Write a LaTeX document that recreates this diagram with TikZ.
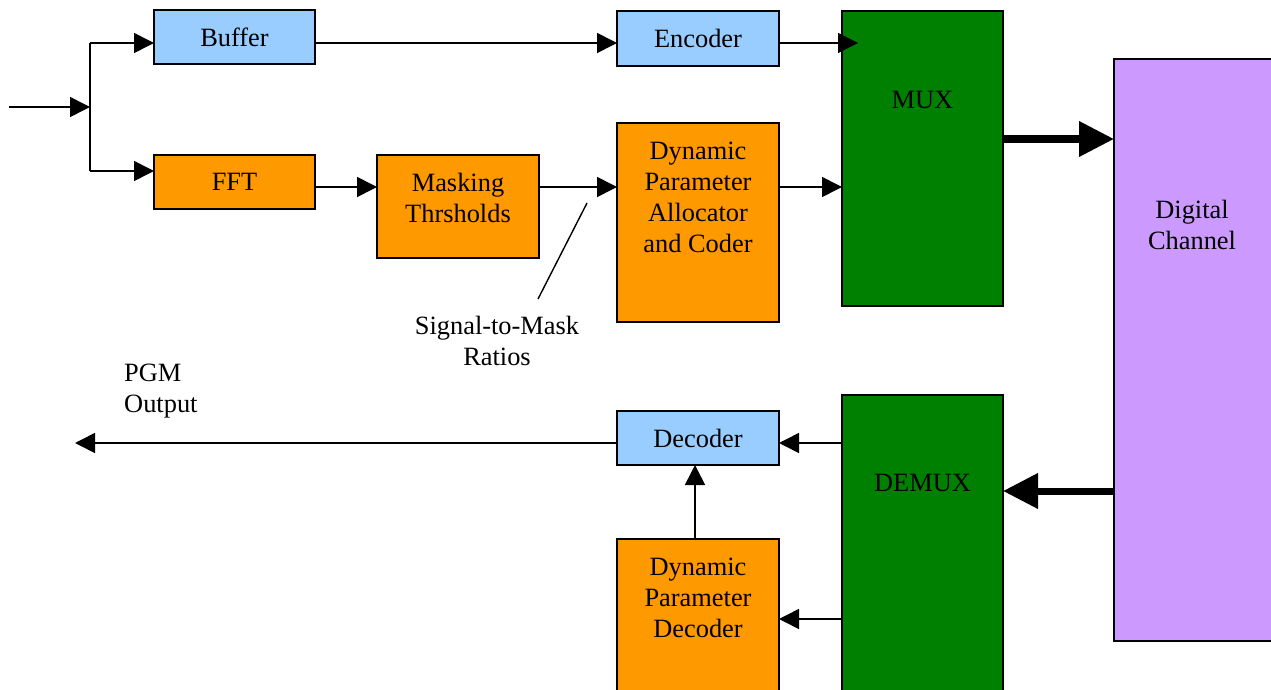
\documentclass[tikz,border=0pt]{standalone}
\usepackage{fontspec}
\setmainfont{Liberation Serif}
\usetikzlibrary{arrows.meta}
\definecolor{lightblue}{HTML}{99CCFF}
\definecolor{orangebox}{HTML}{FF9900}
\definecolor{muxgreen}{HTML}{008000}
\definecolor{channel}{HTML}{CC99FF}
\begin{document}
\begin{tikzpicture}[x=1pt,y=-1pt,
  box/.style={draw=black, line width=1.6pt, inner sep=0pt, outer sep=0pt, anchor=north west},
  txt/.style={font=\fontsize{26.4}{31}\selectfont, align=center, inner sep=0pt},
  wire/.style={line width=1.6pt},
  link/.style={line width=1.6pt, -{Triangle[length=20pt,width=20pt]}},
  bus/.style={line width=7pt, -{Triangle[length=35pt,width=34pt]}}]
\useasboundingbox (0,0) rectangle (1271,690);

% blocks
\node[box, fill=lightblue, minimum width=161pt, minimum height=54pt] (buffer) at (154,10) {};
\node[box, fill=orangebox, minimum width=161pt, minimum height=54pt] (fft) at (154,155) {};
\node[box, fill=orangebox, minimum width=162pt, minimum height=103pt] (mask) at (377,155) {};
\node[box, fill=lightblue, minimum width=162pt, minimum height=55pt] (encoder) at (617,11) {};
\node[box, fill=orangebox, minimum width=162pt, minimum height=199pt] (dpac) at (617,123) {};
\node[box, fill=muxgreen, minimum width=161pt, minimum height=295pt] (mux) at (842,11) {};
\node[box, fill=channel, minimum width=160pt, minimum height=582pt] (dc) at (1114,59) {};
\node[box, fill=muxgreen, minimum width=161pt, minimum height=296pt] (demux) at (842,395) {};
\node[box, fill=lightblue, minimum width=162pt, minimum height=54pt] (decoder) at (617,411) {};
\node[box, fill=orangebox, minimum width=162pt, minimum height=152pt] (dpd) at (617,539) {};

% block captions
\node[txt] (bufferlbl) at (234.5,37) {Buffer};
\node[txt] (fftlbl) at (234.5,182) {FFT};
\node[txt] (masklbl) at (458,198) {Masking\\Thrsholds};
\node[txt] (encoderlbl) at (698,38) {Encoder};
\node[txt] (dpaclbl) at (698,197) {Dynamic\\Parameter\\Allocator\\and Coder};
\node[txt] (muxlbl) at (922.5,100) {MUX};
\node[txt] (dclbl) at (1192,225) {Digital\\Channel};
\node[txt] (demuxlbl) at (922.5,483) {DEMUX};
\node[txt] (decoderlbl) at (698,438) {Decoder};
\node[txt] (dpdlbl) at (698,598) {Dynamic\\Parameter\\Decoder};
\node[txt] (smrlbl) at (497,341) {Signal-to-Mask\\Ratios};
\node[txt, align=left, anchor=west] (pgmlbl) at (124,391) {PGM\\Output};

% signal rows
\coordinate (rowA) at (0,43);
\coordinate (rowB) at (0,187);
\coordinate (rowF) at (0,171);
\coordinate (rowM) at (0,139);
\coordinate (rowD) at (0,443);
\coordinate (rowP) at (0,619);
\coordinate (rowC) at (0,491);

% input and split
\coordinate (in) at (9,107);
\coordinate (split) at (90,107);
\coordinate (muxtip) at (858,43);
\draw[link] (in) -- (split);
\draw[wire] (split |- rowA) -- (split |- rowF);
\draw[link] (split |- rowA) -- (buffer.west |- rowA);
\draw[link] (split |- rowF) -- (fft.west |- rowF);

% encoder path
\draw[link] (buffer.east |- rowA) -- (encoder.west |- rowA);
\draw[link] (encoder.east |- rowA) -- (muxtip);

% analysis path
\draw[link] (fft.east |- rowB) -- (mask.west |- rowB);
\draw[link] (mask.east |- rowB) -- (dpac.west |- rowB);
\draw[link] (dpac.east |- rowB) -- (mux.west |- rowB);

% pointer to the signal-to-mask label
\coordinate (smrA) at (587,203);
\coordinate (smrB) at (538,299);
\draw[wire, line width=1.4pt] (smrA) -- (smrB);

% channel links
\draw[bus] (mux.east |- rowM) -- (dc.west |- rowM);
\draw[bus] (dc.west |- rowC) -- (demux.east |- rowC);

% decoding path
\draw[link] (demux.west |- rowD) -- (decoder.east |- rowD);
\draw[link] (demux.west |- rowP) -- (dpd.east |- rowP);
\draw[link] (dpd.north -| 695,0) -- (decoder.south -| 695,0);
\coordinate (out) at (75,443);
\draw[link] (decoder.west |- rowD) -- (out);
\end{tikzpicture}
\end{document}
